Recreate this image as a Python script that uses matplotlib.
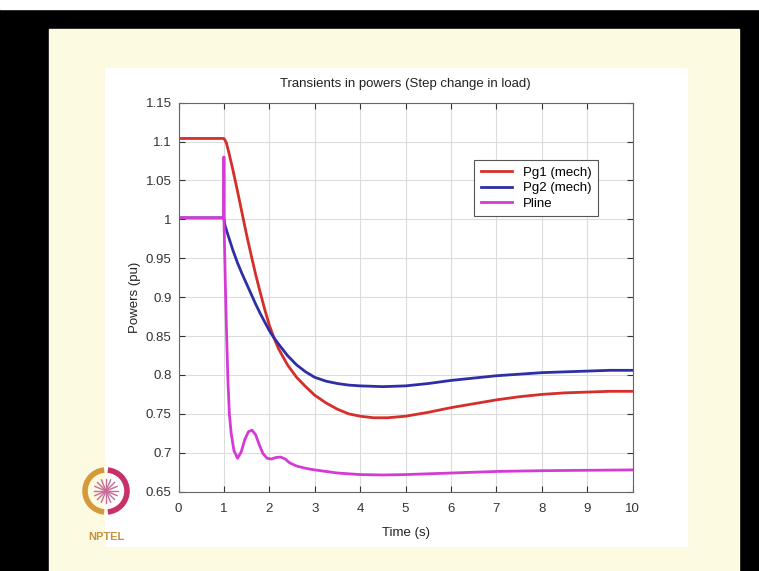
import numpy as np
import matplotlib
matplotlib.use('Agg')
import matplotlib.pyplot as plt
from matplotlib.patches import Rectangle, Arc

plt.rcParams['font.family'] = ['Liberation Sans', 'DejaVu Sans']

# ── data ─────────────────────────────────────────────────────
t_pg1 = [0, 1.0, 1.05, 1.1, 1.2, 1.3, 1.4, 1.5, 1.6, 1.7, 1.8, 1.9, 2.0,
         2.1, 2.2, 2.4, 2.6, 2.8, 3.0, 3.25, 3.5, 3.75, 4.0, 4.3, 4.6, 5.0,
         5.5, 6.0, 6.5, 7.0, 7.5, 8.0, 8.5, 9.0, 9.5, 10.0]
pg1 = [1.104, 1.104, 1.099, 1.088, 1.063, 1.036, 1.008, 0.980, 0.954, 0.929,
       0.906, 0.884, 0.864, 0.848, 0.834, 0.813, 0.797, 0.785, 0.774, 0.764,
       0.756, 0.750, 0.747, 0.745, 0.745, 0.747, 0.752, 0.758, 0.763, 0.768,
       0.772, 0.775, 0.777, 0.778, 0.779, 0.779]

t_pg2 = [0, 1.0, 1.02, 1.1, 1.2, 1.3, 1.4, 1.5, 1.6, 1.7, 1.8, 1.9, 2.0,
         2.1, 2.2, 2.4, 2.6, 2.8, 3.0, 3.25, 3.5, 3.75, 4.0, 4.5, 5.0, 5.5,
         6.0, 6.5, 7.0, 7.5, 8.0, 8.5, 9.0, 9.5, 10.0]
pg2 = [1.002, 1.002, 0.993, 0.978, 0.960, 0.944, 0.930, 0.917, 0.904, 0.891,
       0.879, 0.868, 0.857, 0.848, 0.840, 0.825, 0.813, 0.804, 0.797, 0.792,
       0.789, 0.787, 0.786, 0.785, 0.786, 0.789, 0.793, 0.796, 0.799, 0.801,
       0.803, 0.804, 0.805, 0.806, 0.806]

t_pline = [0, 1.0, 1.0, 1.0, 1.005, 1.03, 1.06, 1.09, 1.12, 1.16, 1.22, 1.3,
           1.38, 1.46, 1.54, 1.62, 1.7, 1.78, 1.86, 1.95, 2.05, 2.15, 2.25,
           2.35, 2.45, 2.6, 2.8, 3.0, 3.25, 3.5, 4.0, 4.5, 5.0, 5.5, 6.0,
           6.5, 7.0, 7.5, 8.0, 9.0, 10.0]
pline = [1.002, 1.002, 1.080, 1.000, 0.990, 0.920, 0.850, 0.790, 0.750, 0.725,
         0.703, 0.693, 0.701, 0.717, 0.727, 0.729, 0.723, 0.710, 0.699, 0.693,
         0.692, 0.694, 0.6945, 0.692, 0.687, 0.683, 0.680, 0.678, 0.676, 0.674,
         0.672, 0.6715, 0.672, 0.673, 0.674, 0.675, 0.676, 0.6765, 0.677,
         0.6775, 0.678]

xticks = list(range(0, 11))
yticks = [0.65, 0.7, 0.75, 0.8, 0.85, 0.9, 0.95, 1.0, 1.05, 1.1, 1.15]
ytick_labels = ['0.65', '0.7', '0.75', '0.8', '0.85', '0.9', '0.95', '1',
                '1.05', '1.1', '1.15']

W, H = 759, 571
fig = plt.figure(figsize=(W / 100, H / 100), dpi=100, facecolor='black')

# ── slide background (pixel coords) ──────────────────────────
bg = fig.add_axes([0, 0, 1, 1], zorder=-1)
bg.set_xlim(0, W)
bg.set_ylim(H, 0)
bg.axis('off')
bg.add_patch(Rectangle((0, 0), W, H, color='black'))
bg.add_patch(Rectangle((0, 0), W, 9, color='white'))
bg.add_patch(Rectangle((49, 29), 690, H - 29, color='#fcfae1'))
bg.add_patch(Rectangle((105, 68), 582, 478, color='white'))

# NPTEL logo (rough)
cx, cy, r = 106, 491, 21
bg.add_patch(Arc((cx, cy), 2 * r, 2 * r, theta1=95, theta2=265,
                 color='#d49a3a', lw=4))
bg.add_patch(Arc((cx, cy), 2 * r, 2 * r, theta1=-85, theta2=85,
                 color='#c8306a', lw=4))
for a in np.linspace(0, np.pi, 8, endpoint=False):
    bg.plot([cx - 12 * np.cos(a), cx + 12 * np.cos(a)],
            [cy - 12 * np.sin(a), cy + 12 * np.sin(a)],
            color='#c86a9a', lw=1)
bg.text(cx, 537, 'NPTEL', ha='center', va='center', fontsize=8,
        fontweight='bold', color='#c8903a')

# ── main plot ─────────────────────────────────────────────────
ax = fig.add_axes([0.2352, 0.1389, 0.5982, 0.6813])
ax.set_facecolor('white')
ax.plot(t_pg1, pg1, color='#d42f2b', lw=2, label='Pg1 (mech)')
ax.plot(t_pg2, pg2, color='#2e2ea6', lw=2, label='Pg2 (mech)')
ax.plot(t_pline, pline, color='#d63ad6', lw=2, label='Pline')

ax.set_xlim(0, 10)
ax.set_ylim(0.65, 1.15)
ax.set_xticks(xticks)
ax.set_yticks(yticks)
ax.set_yticklabels(ytick_labels)
ax.tick_params(direction='in', length=4, top=True, right=True,
               labelsize=9.5, colors='#333333')
ax.tick_params(axis='x', pad=8)
ax.tick_params(axis='y', pad=5)
ax.grid(True, color='#dcdcdc', lw=0.8)
for s in ax.spines.values():
    s.set_color('#666666')
    s.set_linewidth(0.8)

ax.set_title('Transients in powers (Step change in load)', fontsize=9.5,
             color='#222222', pad=11)
ax.set_xlabel('Time (s)', fontsize=9.5, color='#222222', labelpad=9)
ax.set_ylabel('Powers (pu)', fontsize=9.5, color='#222222', labelpad=3)

leg = ax.legend(loc='upper right', bbox_to_anchor=(0.924, 0.853),
                fontsize=9.5, fancybox=False, framealpha=1,
                edgecolor='#555555', handlelength=2.4, borderpad=0.5,
                labelspacing=0.25, borderaxespad=0)
leg.get_frame().set_linewidth(0.8)

plt.savefig('out.png', dpi=100, facecolor='black')
